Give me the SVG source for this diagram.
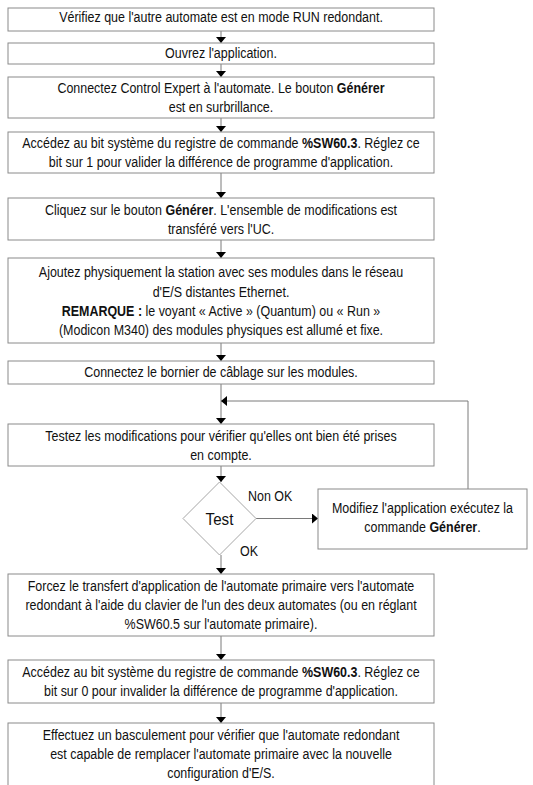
<svg xmlns="http://www.w3.org/2000/svg" width="533" height="785" viewBox="0 0 533 785">
  <style>
    .box { fill: #ffffff; stroke: #8a8a8a; stroke-width: 1; }
    .dia { fill: #ffffff; stroke: #a6a6a6; stroke-width: 1; }
    .wire { fill: none; stroke: #7a7a7a; stroke-width: 1; }
    text { font-family: "Liberation Sans Narrow", "Liberation Sans", Arial, sans-serif; font-size: 14px; fill: #111111; text-anchor: middle; }
    .b { font-weight: bold; }
    .lbl { text-anchor: start; }
    .big { font-size: 17px; }
  </style>
  <defs>
    <marker id="arrow" viewBox="0 0 6 10" refX="6" refY="5" markerWidth="6" markerHeight="10" markerUnits="userSpaceOnUse" orient="auto">
      <path d="M0,0 L6,5 L0,10 z" fill="#000000"/>
    </marker>
  </defs>
  <rect width="533" height="785" fill="#ffffff"/>

  <!-- connectors -->
  <g id="connectors">
    <line class="wire" x1="221" y1="31" x2="221" y2="43" marker-end="url(#arrow)"/>
    <line class="wire" x1="221" y1="64" x2="221" y2="77" marker-end="url(#arrow)"/>
    <line class="wire" x1="221" y1="118" x2="221" y2="132" marker-end="url(#arrow)"/>
    <line class="wire" x1="221" y1="173" x2="221" y2="198" marker-end="url(#arrow)"/>
    <line class="wire" x1="221" y1="240" x2="221" y2="258" marker-end="url(#arrow)"/>
    <line class="wire" x1="221" y1="343" x2="221" y2="361" marker-end="url(#arrow)"/>
    <line class="wire" x1="221" y1="384" x2="221" y2="424" marker-end="url(#arrow)"/>
    <line class="wire" x1="221" y1="466" x2="221" y2="482" marker-end="url(#arrow)"/>
    <line class="wire" x1="256" y1="518.5" x2="318" y2="518.5" marker-end="url(#arrow)"/>
    <polyline class="wire" points="468,489 468,401 221,401" marker-end="url(#arrow)"/>
    <line class="wire" x1="221" y1="555" x2="221" y2="574" marker-end="url(#arrow)"/>
    <line class="wire" x1="221" y1="636" x2="221" y2="660" marker-end="url(#arrow)"/>
    <line class="wire" x1="221" y1="703" x2="221" y2="723" marker-end="url(#arrow)"/>
  </g>

  <g id="n1">
    <rect class="box" x="8" y="8" width="426" height="23"/>
    <g transform="translate(221 0) scale(0.89 1) translate(-221 0)">
      <text x="221" y="22">Vérifiez que l'autre automate est en mode RUN redondant.</text>
    </g>
  </g>
  <g id="n2">
    <rect class="box" x="8" y="43" width="426" height="21"/>
    <g transform="translate(221 0) scale(0.89 1) translate(-221 0)">
      <text x="221" y="58">Ouvrez l'application.</text>
    </g>
  </g>
  <g id="n3">
    <rect class="box" x="8" y="77" width="426" height="41"/>
    <g transform="translate(221 0) scale(0.89 1) translate(-221 0)">
      <text x="221" y="93">Connectez Control Expert à l'automate. Le bouton <tspan class="b">Générer</tspan></text>
      <text x="221" y="112">est en surbrillance.</text>
    </g>
  </g>
  <g id="n4">
    <rect class="box" x="8" y="132" width="426" height="41"/>
    <g transform="translate(221 0) scale(0.89 1) translate(-221 0)">
      <text x="221" y="148">Accédez au bit système du registre de commande <tspan class="b">%SW60.3</tspan>. Réglez ce</text>
      <text x="221" y="167">bit sur 1 pour valider la différence de programme d'application.</text>
    </g>
  </g>
  <g id="n5">
    <rect class="box" x="8" y="198" width="426" height="42"/>
    <g transform="translate(221 0) scale(0.89 1) translate(-221 0)">
      <text x="221" y="215">Cliquez sur le bouton <tspan class="b">Générer</tspan>. L'ensemble de modifications est</text>
      <text x="221" y="234">transféré vers l'UC.</text>
    </g>
  </g>
  <g id="n6">
    <rect class="box" x="8" y="258" width="426" height="85"/>
    <g transform="translate(221 0) scale(0.89 1) translate(-221 0)">
      <text x="221" y="277">Ajoutez physiquement la station avec ses modules dans le réseau</text>
      <text x="221" y="297">d'E/S distantes Ethernet.</text>
      <text x="221" y="316"><tspan class="b">REMARQUE :</tspan> le voyant « Active » (Quantum) ou « Run »</text>
      <text x="221" y="335">(Modicon M340) des modules physiques est allumé et fixe.</text>
    </g>
  </g>
  <g id="n7">
    <rect class="box" x="8" y="361" width="426" height="23"/>
    <g transform="translate(221 0) scale(0.89 1) translate(-221 0)">
      <text x="221" y="377">Connectez le bornier de câblage sur les modules.</text>
    </g>
  </g>
  <g id="n8">
    <rect class="box" x="8" y="424" width="426" height="42"/>
    <g transform="translate(221 0) scale(0.89 1) translate(-221 0)">
      <text x="221" y="441">Testez les modifications pour vérifier qu'elles ont bien été prises</text>
      <text x="221" y="460">en compte.</text>
    </g>
  </g>
  <g id="test">
    <polygon class="dia" points="219.5,482 256,518.5 219.5,555 183,518.5"/>
    <g transform="translate(219.5 0) scale(0.89 1) translate(-219.5 0)">
      <text class="big" x="219.5" y="525">Test</text>
    </g>
  </g>
  <g id="labels">
    <g transform="translate(248 0) scale(0.89 1) translate(-248 0)">
      <text class="lbl" x="248" y="501">Non OK</text>
    </g>
    <g transform="translate(240 0) scale(0.89 1) translate(-240 0)">
      <text class="lbl" x="240" y="556">OK</text>
    </g>
  </g>
  <g id="n9">
    <rect class="box" x="318" y="489" width="209" height="60"/>
    <g transform="translate(422.5 0) scale(0.89 1) translate(-422.5 0)">
      <text x="422.5" y="513">Modifiez l'application exécutez la</text>
      <text x="422.5" y="532">commande <tspan class="b">Générer</tspan>.</text>
    </g>
  </g>
  <g id="n10">
    <rect class="box" x="8" y="574" width="426" height="62"/>
    <g transform="translate(221 0) scale(0.89 1) translate(-221 0)">
      <text x="221" y="591">Forcez le transfert d'application de l'automate primaire vers l'automate</text>
      <text x="221" y="610">redondant à l'aide du clavier de l'un des deux automates (ou en réglant</text>
      <text x="221" y="629">%SW60.5 sur l'automate primaire).</text>
    </g>
  </g>
  <g id="n11">
    <rect class="box" x="8" y="660" width="426" height="43"/>
    <g transform="translate(221 0) scale(0.89 1) translate(-221 0)">
      <text x="221" y="677">Accédez au bit système du registre de commande <tspan class="b">%SW60.3</tspan>. Réglez ce</text>
      <text x="221" y="696">bit sur 0 pour invalider la différence de programme d'application.</text>
    </g>
  </g>
  <g id="n12">
    <rect class="box" x="8" y="723" width="426" height="70"/>
    <g transform="translate(221 0) scale(0.89 1) translate(-221 0)">
      <text x="221" y="740">Effectuez un basculement pour vérifier que l'automate redondant</text>
      <text x="221" y="759">est capable de remplacer l'automate primaire avec la nouvelle</text>
      <text x="221" y="778">configuration d'E/S.</text>
    </g>
  </g>
</svg>
